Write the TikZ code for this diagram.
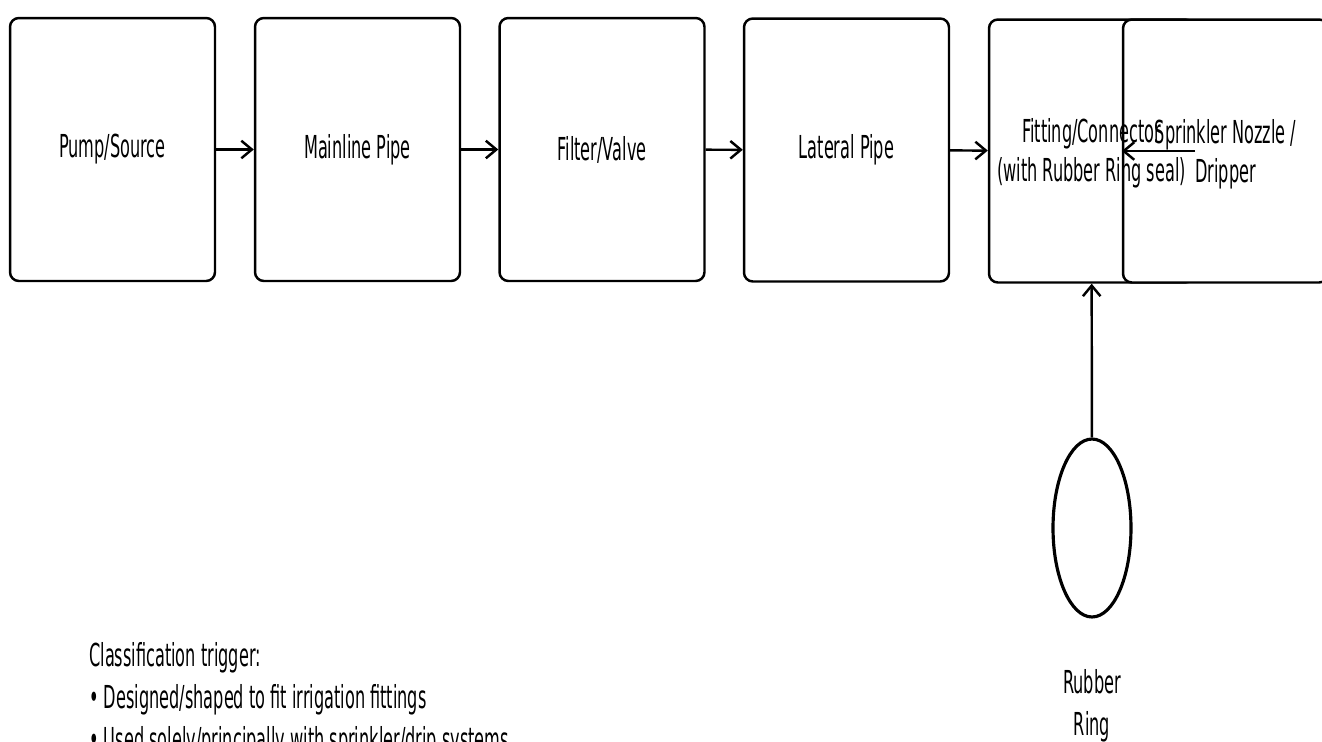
\documentclass[tikz,border=0pt]{standalone}
\usepackage{fontspec}
\setmainfont{DejaVu Sans}[FakeStretch=0.51]
\usetikzlibrary{arrows.meta,shapes.geometric}

\begin{document}
\begin{tikzpicture}[>={Straight Barb[length=6pt,width=10pt]}, x=0.02cm, y=-0.02cm,
    part/.style={draw, line width=1.4pt, rounded corners=5pt, fill=white,
      minimum width=4.1cm, minimum height=5.26cm, inner sep=0pt,
      font=\fontsize{18}{22}\selectfont, align=center},
    lbl/.style={font=\fontsize{18}{24}\selectfont, align=center, inner sep=0pt},
    arr/.style={->, line width=1.4pt}]
  \useasboundingbox (0,0) rectangle (1322,741);
  \clip (0,0) rectangle (1322,741);
  \fill[white] (0,0) rectangle (1322,741);
  % flow of the system
  \node[part] (pump) at (112.5,149.5) {Pump/Source};
  \node[part] (main) at (357.5,149.5) {Mainline Pipe};
  \node[part] (filt) at (602,149.5) {Filter/Valve};
  \node[part] (lat) at (846.5,150) {Lateral Pipe};
  \node[part] (fit) at (1091.5,151) {};
  \node[part, text depth=0pt] (spr) at (1225.5,151) {Sprinkler Nozzle /\\Dripper};
  \node[lbl, font=\fontsize{18}{22}\selectfont] (fitlbl) at (1091.5,153)
    {Fitting/Connector\\(with Rubber Ring seal)};
  % the seal
  \node[ellipse, draw, line width=1.8pt, minimum width=1.56cm,
    minimum height=3.56cm, inner sep=0pt] (ring) at (1092,528) {};
  \node[lbl] (ringlbl) at (1092,706) {Rubber\\Ring};
  \draw[arr] (pump) -- (main);
  \draw[arr] (main) -- (filt);
  \draw[arr] (filt) -- (lat);
  \draw[arr] (lat) -- (fit);
  \draw[arr] (fit) -- (spr);
  \draw[arr] (ring) -- (fit);
  \node[lbl, anchor=north west, align=left] (trigger) at (89,642)
    {Classification trigger:\\
     \textbullet\ Designed/shaped to fit irrigation fittings\\
     \textbullet\ Used solely/principally with sprinkler/drip systems};
\end{tikzpicture}
\end{document}
